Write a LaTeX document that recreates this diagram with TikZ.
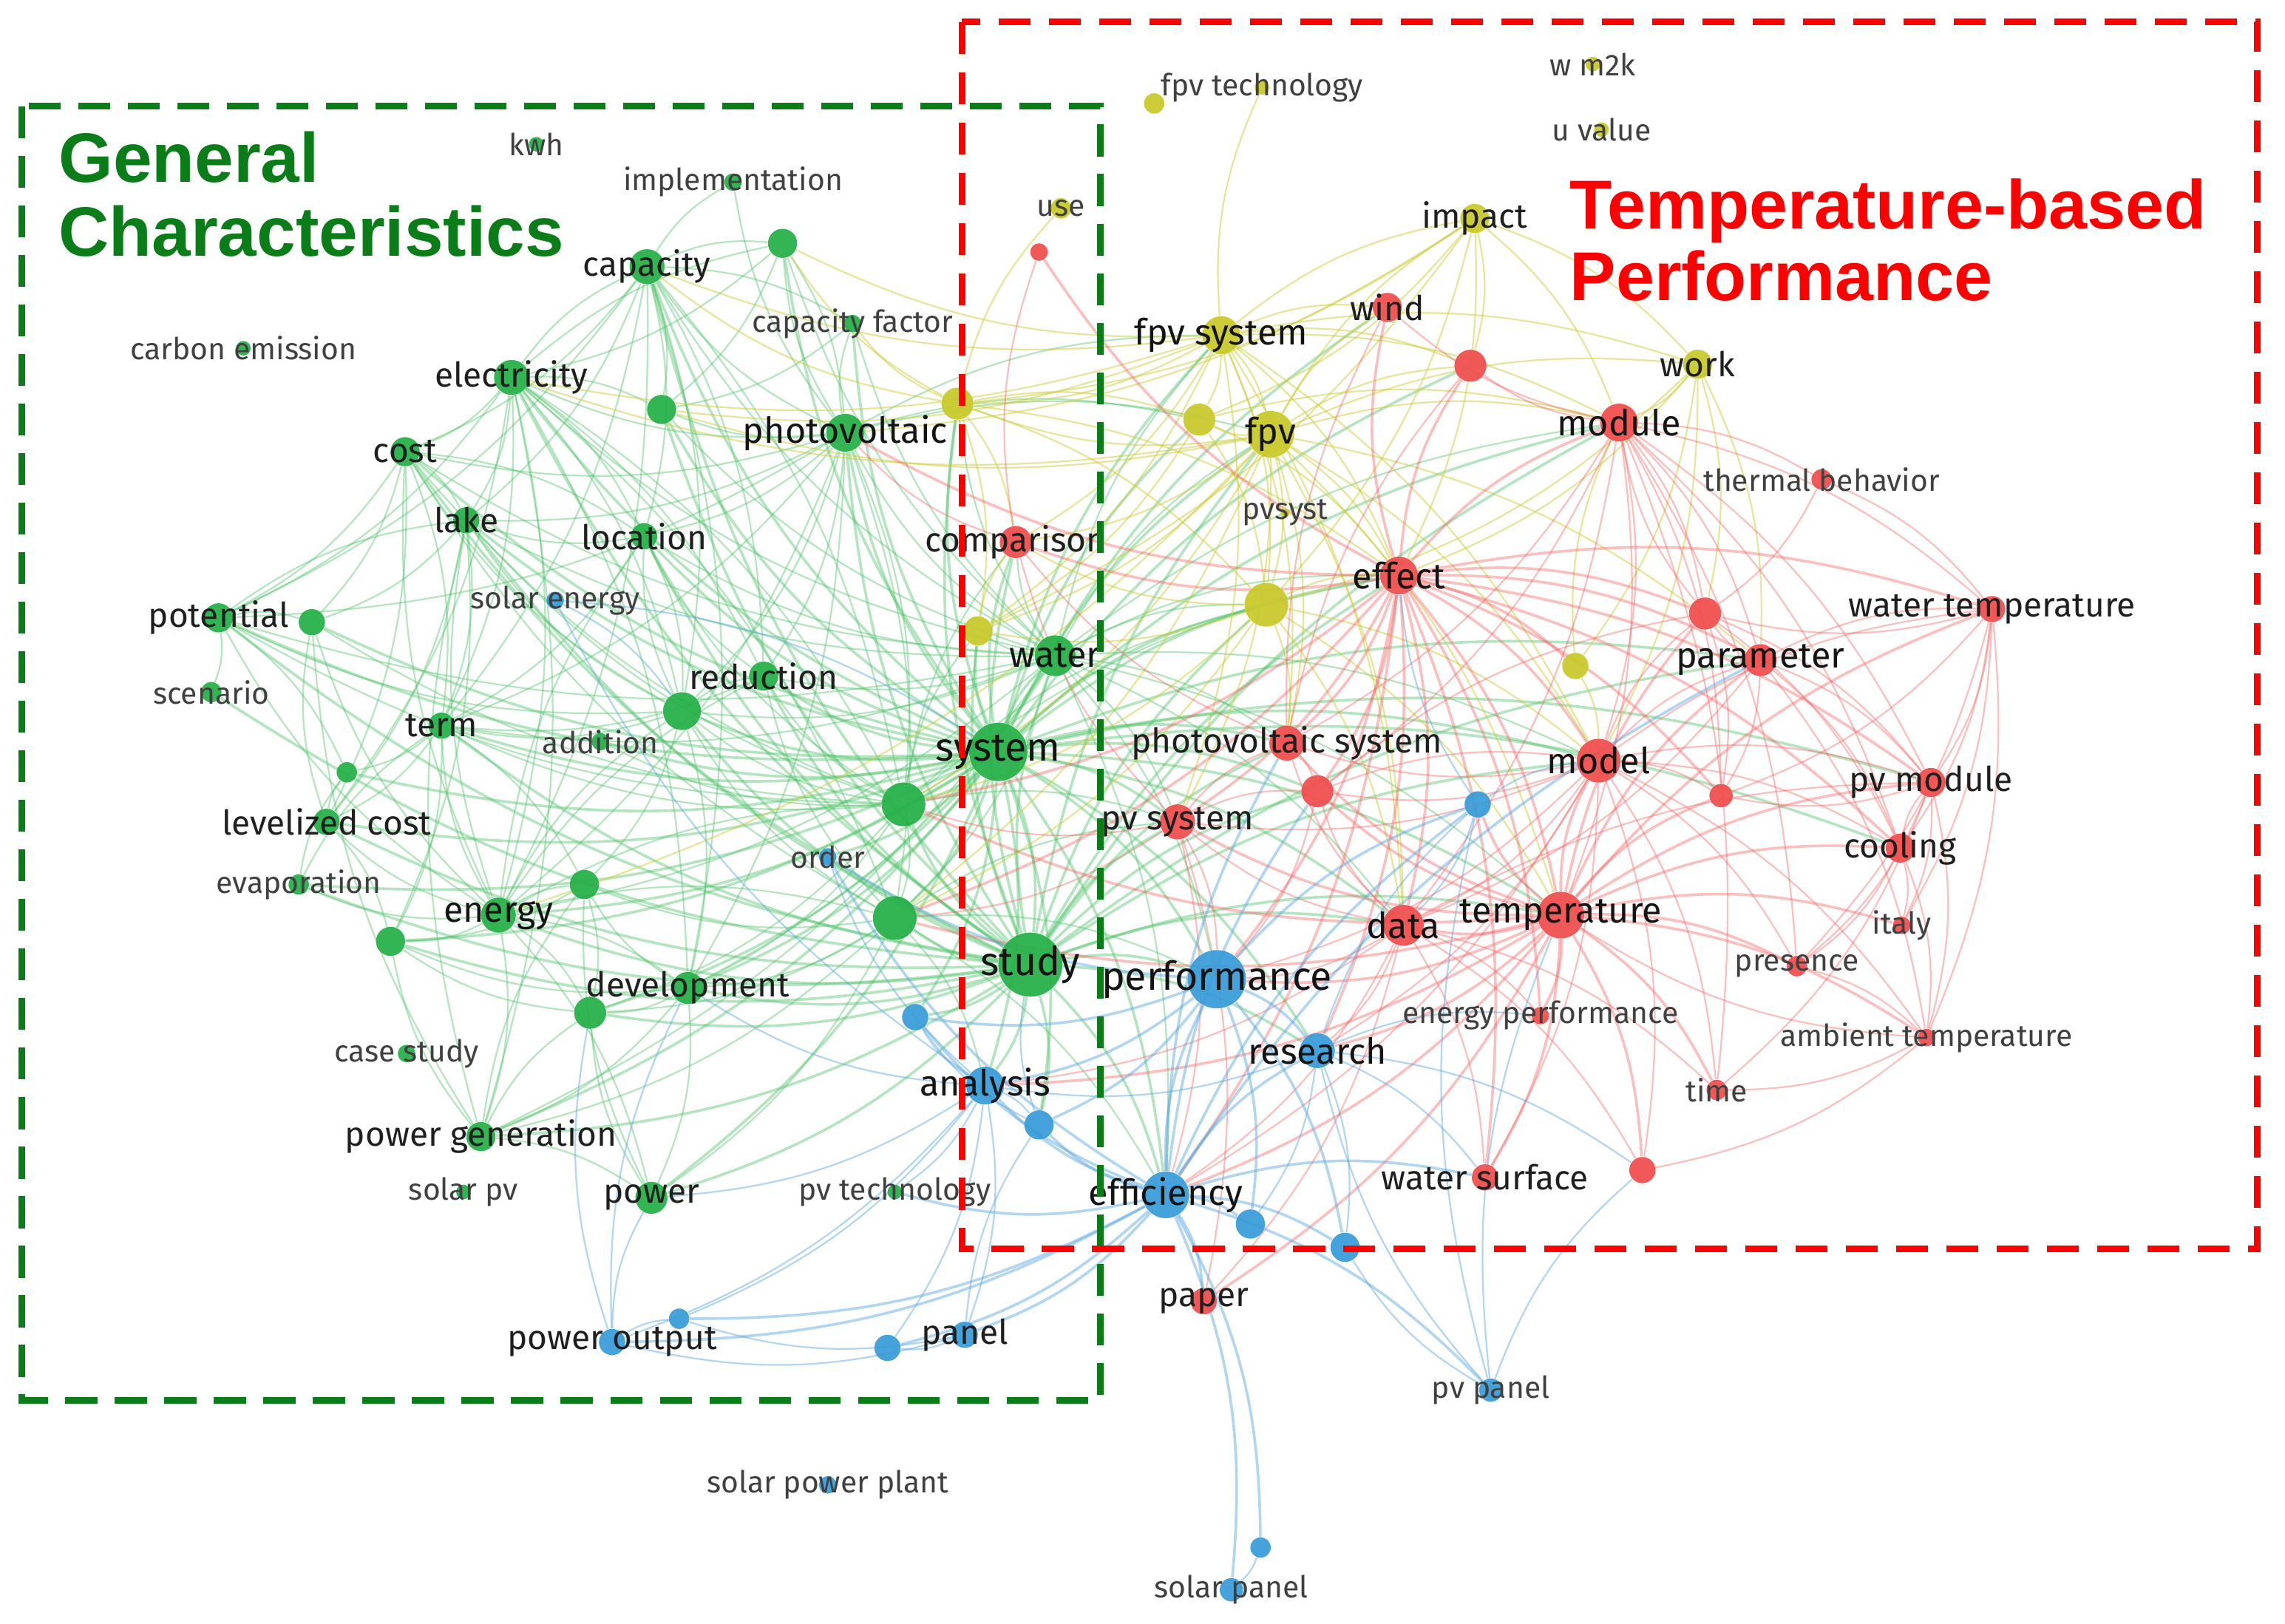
\documentclass[tikz,border=0pt]{standalone}
\usepackage{fontspec}
\setmainfont{Fira Sans}
\newfontfamily\titlefont{Liberation Sans}
\definecolor{ngreen}{RGB}{35,175,70}
\definecolor{nyellow}{RGB}{200,200,40}
\definecolor{nred}{RGB}{240,75,75}
\definecolor{nblue}{RGB}{55,155,215}
\definecolor{egreen}{RGB}{80,195,105}
\definecolor{eyellow}{RGB}{205,205,60}
\definecolor{ered}{RGB}{245,105,105}
\definecolor{eblue}{RGB}{95,170,225}
\definecolor{boxgreen}{RGB}{10,125,25}
\definecolor{boxred}{RGB}{255,0,0}
\pgfdeclarelayer{bglayer}
\pgfdeclarelayer{edgelayer}
\pgfsetlayers{bglayer,edgelayer,main}
\newcommand\vn[7]{\node[#4, minimum size=#5*0.02cm, label={[#7]center:#6}] (#1) at (#2,#3) {};}
\newcommand\edges[3]{\foreach \t in {#3} \draw[#1] (#2) to[bend left=14] (\t);}
\begin{document}
\begin{tikzpicture}[x=0.02cm,y=-0.02cm,
  vg/.style={circle,inner sep=0pt,draw=none,fill=ngreen,fill opacity=0.92},
  vy/.style={circle,inner sep=0pt,draw=none,fill=nyellow,fill opacity=0.92},
  vr/.style={circle,inner sep=0pt,draw=none,fill=nred,fill opacity=0.92},
  vb/.style={circle,inner sep=0pt,draw=none,fill=nblue,fill opacity=0.92},
  ls/.style={inner sep=0pt,text=black!75,font=\fontsize{11.8}{13}\selectfont},
  lm/.style={inner sep=0pt,text=black!88,font=\fontsize{13.3}{14}\selectfont},
  ll/.style={inner sep=0pt,text=black!92,font=\fontsize{14}{15}\selectfont},
  lx/.style={inner sep=0pt,text=black!92,font=\fontsize{15.5}{16}\selectfont},
  ge/.style={draw=egreen,draw opacity=0.42,line width=0.65pt},
  ye/.style={draw=eyellow,draw opacity=0.5,line width=0.65pt},
  re/.style={draw=ered,draw opacity=0.42,line width=0.65pt},
  be/.style={draw=eblue,draw opacity=0.48,line width=0.65pt},
  hub/.style={line width=1.05pt},
  gbox/.style={draw=boxgreen,line width=2.6pt,dash pattern=on 0.44cm off 0.24cm},
  rbox/.style={draw=boxred,line width=2.6pt,dash pattern=on 0.44cm off 0.25cm}]
\begin{pgfonlayer}{bglayer}
\fill[white] (0,0) rectangle (1568,1114);
\end{pgfonlayer}
\useasboundingbox (0,0) rectangle (1568,1114);
% ---------- green cluster
\vn{kwh}{368}{99}{vg}{10}{kwh}{ls}
\vn{implementation}{503}{125}{vg}{12}{implementation}{ls}
\vn{gA}{537}{167}{vg}{20}{}{ls}
\vn{capacity}{444}{183}{vg}{24}{capacity}{lm}
\vn{capfactor}{585}{222}{vg}{12}{capacity factor}{ls}
\vn{carbon}{167}{239}{vg}{10}{carbon emission}{ls}
\vn{electricity}{351}{259}{vg}{24}{electricity}{lm}
\vn{gB}{454}{281}{vg}{20}{}{ls}
\vn{photovoltaic}{580}{297}{vg}{26}{photovoltaic}{ll}
\vn{cost}{278}{310}{vg}{20}{cost}{lm}
\vn{lake}{320}{357}{vg}{18}{lake}{lm}
\vn{location}{442}{368}{vg}{18}{location}{lm}
\vn{potential}{150}{424}{vg}{20}{potential}{lm}
\vn{gC}{214}{427}{vg}{18}{}{ls}
\vn{scenario}{145}{475}{vg}{14}{scenario}{ls}
\vn{reduction}{524}{464}{vg}{20}{reduction}{lm}
\vn{gD}{468}{488}{vg}{26}{}{ls}
\vn{term}{303}{498}{vg}{18}{term}{lm}
\vn{addition}{412}{509}{vg}{12}{addition}{ls}
\vn{gE}{238}{530}{vg}{14}{}{ls}
\vn{levelized}{224}{564}{vg}{18}{levelized cost}{lm}
\vn{gF}{620}{552}{vg}{30}{}{ls}
\vn{evaporation}{205}{607}{vg}{14}{evaporation}{ls}
\vn{gG}{401}{607}{vg}{20}{}{ls}
\vn{energy}{342}{628}{vg}{24}{energy}{ll}
\vn{gH}{614}{630}{vg}{30}{}{ls}
\vn{gI}{268}{646}{vg}{20}{}{ls}
\vn{development}{472}{678}{vg}{22}{development}{lm}
\vn{gJ}{405}{695}{vg}{22}{}{ls}
\vn{casestudy}{279}{723}{vg}{12}{case study}{ls}
\vn{powergen}{330}{780}{vg}{20}{power generation}{lm}
\vn{solarpv}{318}{818}{vg}{10}{solar pv}{ls}
\vn{power}{447}{822}{vg}{22}{power}{lm}
\vn{pvtech}{614}{818}{vg}{10}{pv technology}{ls}
\vn{water}{724}{450}{vg}{28}{water}{ll}
\vn{system}{685}{516}{vg}{40}{system}{lx}
\vn{study}{707}{662}{vg}{44}{study}{lx}
% ---------- yellow cluster
\vn{fpvtech}{866}{60}{vy}{10}{fpv technology}{ls}
\vn{yA}{792}{71}{vy}{14}{}{ls}
\vn{wmk}{1093}{44}{vy}{10}{w m2k}{ls}
\vn{uvalue}{1099}{89}{vy}{10}{u value}{ls}
\vn{use}{728}{143}{vy}{14}{use}{ls}
\vn{impact}{1012}{150}{vy}{20}{impact}{lm}
\vn{fpvsystem}{838}{230}{vy}{26}{fpv system}{ll}
\vn{work}{1165}{250}{vy}{20}{work}{lm}
\vn{yB}{657}{277}{vy}{22}{}{ls}
\vn{yC}{823}{288}{vy}{22}{}{ls}
\vn{fpv}{872}{298}{vy}{32}{fpv}{ll}
\vn{pvsyst}{882}{352}{vy}{6}{pvsyst}{ls}
\vn{yD}{869}{415}{vy}{30}{}{ls}
\vn{yE}{671}{433}{vy}{20}{}{ls}
\vn{yF}{1081}{457}{vy}{18}{}{ls}
% ---------- red cluster
\vn{rA}{713}{173}{vr}{12}{}{ls}
\vn{wind}{952}{211}{vr}{20}{wind}{lm}
\vn{rB}{1009}{251}{vr}{22}{}{ls}
\vn{module}{1111}{290}{vr}{26}{module}{ll}
\vn{thermal}{1250}{329}{vr}{14}{thermal behavior}{ls}
\vn{comparison}{697}{372}{vr}{22}{comparison}{lm}
\vn{effect}{960}{395}{vr}{26}{effect}{ll}
\vn{rC}{1170}{421}{vr}{22}{}{ls}
\vn{watertemp}{1367}{418}{vr}{18}{water temperature}{lm}
\vn{parameter}{1208}{453}{vr}{22}{parameter}{ll}
\vn{pvsys2}{883}{510}{vr}{24}{photovoltaic system}{lm}
\vn{model}{1097}{522}{vr}{30}{model}{ll}
\vn{rD}{904}{543}{vr}{22}{}{ls}
\vn{rE}{1181}{546}{vr}{16}{}{ls}
\vn{pvmodule}{1325}{537}{vr}{20}{pv module}{lm}
\vn{pvsystem}{808}{564}{vr}{24}{pv system}{lm}
\vn{cooling}{1304}{582}{vr}{20}{cooling}{lm}
\vn{data}{963}{635}{vr}{28}{data}{ll}
\vn{temperature}{1071}{628}{vr}{32}{temperature}{ll}
\vn{italy}{1305}{635}{vr}{12}{italy}{ls}
\vn{presence}{1233}{663}{vr}{14}{presence}{ls}
\vn{energyperf}{1057}{697}{vr}{12}{energy performance}{ls}
\vn{ambient}{1322}{712}{vr}{12}{ambient temperature}{ls}
\vn{time}{1178}{748}{vr}{14}{time}{ls}
\vn{watersurface}{1019}{808}{vr}{18}{water surface}{lm}
\vn{rF}{1127}{803}{vr}{18}{}{ls}
\vn{paper}{826}{893}{vr}{18}{paper}{lm}
% ---------- blue cluster
\vn{solarenergy}{381}{412}{vb}{12}{solar energy}{ls}
\vn{order}{568}{588}{vb}{12}{order}{ls}
\vn{bA}{628}{698}{vb}{18}{}{ls}
\vn{research}{904}{721}{vb}{24}{research}{ll}
\vn{analysis}{676}{745}{vb}{26}{analysis}{ll}
\vn{bB}{713}{772}{vb}{20}{}{ls}
\vn{bC}{1014}{552}{vb}{18}{}{ls}
\vn{efficiency}{800}{820}{vb}{32}{efficiency}{ll}
\vn{bD}{858}{840}{vb}{20}{}{ls}
\vn{bE}{923}{856}{vb}{20}{}{ls}
\vn{poweroutput}{420}{921}{vb}{18}{power output}{lm}
\vn{bF}{466}{905}{vb}{14}{}{ls}
\vn{bG}{609}{925}{vb}{18}{}{ls}
\vn{panel}{662}{916}{vb}{18}{panel}{lm}
\vn{pvpanel}{1023}{954}{vb}{16}{pv panel}{ls}
\vn{solarplant}{568}{1019}{vb}{12}{solar power plant}{ls}
\vn{bH}{865}{1062}{vb}{14}{}{ls}
\vn{solarpanel}{845}{1091}{vb}{16}{solar panel}{ls}
\vn{performance}{835}{672}{vb}{40}{performance}{lx}
% ---------- edges
\begin{pgfonlayer}{edgelayer}
\edges{ge,hub}{system}{water,study,photovoltaic,electricity,capacity,cost,lake,location,potential,gC,reduction,gD,term,addition,levelized,gF,energy,gH,gI,development,gJ,powergen,power,gB,gA,capfactor,evaporation,gE,performance,pvsystem,efficiency,analysis,comparison,fpv,yC,yD,effect,data,temperature,model,fpvsystem,pvsys2,yB,yE,wind,rB,module,parameter,rD,cooling,pvmodule,bB,bA,order,research}
\edges{ge,hub}{study}{water,photovoltaic,electricity,capacity,cost,lake,location,potential,reduction,gD,term,levelized,gF,energy,gH,development,gJ,powergen,power,gB,gI,evaporation,scenario,performance,efficiency,analysis,pvsystem,data,temperature,fpv,effect,model,yB,yE,yD,rD,pvsys2,research,bA,bB,comparison,module,parameter}
\edges{ge}{water}{photovoltaic,electricity,capacity,cost,lake,location,reduction,gD,energy,gF,gH,development,powergen,gB,gA,capfactor,potential,term,fpv,fpvsystem,effect,pvsys2,yE,yD,yB,comparison,pvsystem,data,temperature,module,model,performance,efficiency}
\edges{ge}{photovoltaic}{electricity,capacity,cost,lake,location,gD,reduction,energy,gF,gH,development,gB,gA,capfactor,implementation,fpvsystem,yC,fpv,term,potential}
\edges{ge}{electricity}{capacity,cost,lake,location,gB,gD,reduction,energy,gF,gH,term,potential,levelized,gA,development,powergen}
\edges{ge}{capacity}{cost,lake,location,gD,gF,energy,gB,gA,reduction,term,capfactor,development,potential,implementation}
\edges{ge}{energy}{cost,lake,potential,gC,gI,levelized,gD,gF,gH,development,gJ,powergen,power,evaporation,term,gG,location,reduction}
\edges{ge}{gF}{gD,reduction,gH,development,gJ,term,addition,location,potential,cost,lake,gC,yE,yD,comparison,pvsystem,effect}
\edges{ge}{gH}{development,gJ,power,powergen,gD,reduction,gG,cost,performance,analysis,efficiency,pvsystem}
\edges{ge}{gD}{reduction,term,lake,cost,location,gG,development,potential}
\edges{ge}{gA}{photovoltaic,gB,electricity}
\edges{ge}{capfactor}{gB}
\edges{ge}{location}{lake,term,gD}
\edges{ge}{lake}{term,gI,levelized,gC}
\edges{ge}{term}{gI,gE,levelized,gG}
\edges{ge}{reduction}{location,term}
\edges{ge}{gG}{gJ,gI}
\edges{ge}{gJ}{gI}
\edges{ge}{cost}{lake,potential,gC,levelized,term,location}
\edges{ge}{development}{gJ,powergen,power,gG,gI}
\edges{ge}{powergen}{power,gJ,gI,gC,gG,lake}
\edges{ge}{power}{gJ,gG}
\edges{ge}{potential}{gC,scenario,gE,lake}
\edges{ge}{levelized}{gC,gE,gI}
\edges{ge}{evaporation}{gE,term}
\edges{ye}{fpvsystem}{fpvtech,impact,fpv,yB,yC,yD,yE,effect,wind,module,pvsys2,comparison,capacity,work,rB,model,pvsystem,data,electricity,gB,gA}
\edges{ye}{fpv}{impact,yB,yC,yD,yE,effect,wind,rB,module,work,comparison,pvsys2,pvsystem,model,data,temperature,parameter,gF,gH,energy,electricity,gB}
\edges{ye}{impact}{yC,yD,work,module,effect,yB,yE,photovoltaic,rB}
\edges{ye}{work}{module,yD,yF,parameter,effect,model,rC}
\edges{ye}{yB}{use,yC,yD,yE,comparison,capacity,gA,capfactor,effect}
\edges{ye}{yD}{yE,effect,comparison,model,pvsys2,gF,gH,data,temperature}
\edges{ye}{yC}{yD,yE,effect,module}
\edges{ye}{yE}{comparison}
\edges{ye}{yF}{module,model}
\edges{re,hub}{effect}{wind,rB,module,comparison,rC,parameter,pvsys2,model,rD,pvsystem,data,temperature,watertemp,pvmodule,cooling,rE,energyperf,watersurface,yF,rA,photovoltaic,gF,gH,performance,efficiency,research}
\edges{re}{module}{wind,rB,thermal,rC,parameter,model,pvsys2,temperature,data,pvmodule,cooling,watertemp,presence,time,rE,rD}
\edges{re,hub}{temperature}{model,parameter,rC,watertemp,pvmodule,cooling,italy,presence,ambient,time,watersurface,rF,energyperf,data,rD,rE,pvsys2,pvsystem,paper,efficiency,performance,bC,gF,gH,analysis,research}
\edges{re}{model}{parameter,rC,watertemp,pvmodule,cooling,rE,rD,data,pvsys2,pvsystem,presence,ambient,watersurface,rF,time,performance,efficiency,research}
\edges{re}{parameter}{watertemp,pvmodule,cooling,rC,rE,ambient,data}
\edges{re}{data}{pvsys2,pvsystem,rD,watersurface,energyperf,paper,rF,time,pvmodule,performance,efficiency,research,analysis}
\edges{re}{pvsystem}{pvsys2,comparison,rD,paper,gF,gH,performance,efficiency}
\edges{re}{pvsys2}{rD,comparison,rB,wind}
\edges{re}{rD}{performance,rC,model}
\edges{re}{comparison}{rA,photovoltaic}
\edges{re}{rC}{pvmodule,cooling,rE,module}
\edges{re}{thermal}{rC,watertemp}
\edges{re}{watertemp}{pvmodule,cooling,ambient,rC,rE,presence,italy}
\edges{re}{cooling}{pvmodule,ambient,italy,presence}
\edges{re}{pvmodule}{ambient,rE,presence,italy,time}
\edges{re}{presence}{ambient}
\edges{re}{ambient}{time,rF,temperature}
\edges{be,hub}{efficiency}{performance,research,analysis,bB,bD,bE,panel,bG,bA,pvpanel,solarpanel,bH,poweroutput,bF,pvtech,order,bC,paper,watersurface,rD,parameter,pvsys2}
\edges{be,hub}{performance}{research,analysis,bB,bA,order,bC,bD,bE}
\edges{be}{research}{analysis,bC,bE,bD,rF,energyperf,watersurface}
\edges{be}{analysis}{bB,bA,order,panel,bG,poweroutput,bF,pvtech,development,power,solarenergy}
\edges{be}{bB}{bA,study}
\edges{be}{bC}{model,effect,data}
\edges{be}{panel}{bG,bB,poweroutput,bF}
\edges{be}{poweroutput}{bF,power,gJ,development}
\edges{be}{pvpanel}{bE,temperature,research,rF,bC}
\edges{be}{solarenergy}{system,gD}
\edges{be}{bH}{solarpanel}
\end{pgfonlayer}
% ---------- cluster boxes
\draw[gbox] (15,73) rectangle (755,961);
\draw[rbox] (660,15) rectangle (1549,857);
% ---------- titles
\node[anchor=base west,inner sep=0pt,text=boxgreen,font=\titlefont\bfseries\fontsize{27.3}{29}\selectfont] (tgen) at (40,125) {General};
\node[anchor=base west,inner sep=0pt,text=boxgreen,font=\titlefont\bfseries\fontsize{27.3}{29}\selectfont] (tchar) at (40,176) {Characteristics};
\node[anchor=base west,inner sep=0pt,text=boxred,font=\titlefont\bfseries\fontsize{27}{29}\selectfont] (ttemp) at (1077,157) {Temperature-based};
\node[anchor=base west,inner sep=0pt,text=boxred,font=\titlefont\bfseries\fontsize{27}{29}\selectfont] (tperf) at (1077,206) {Performance};
\end{tikzpicture}
\end{document}
